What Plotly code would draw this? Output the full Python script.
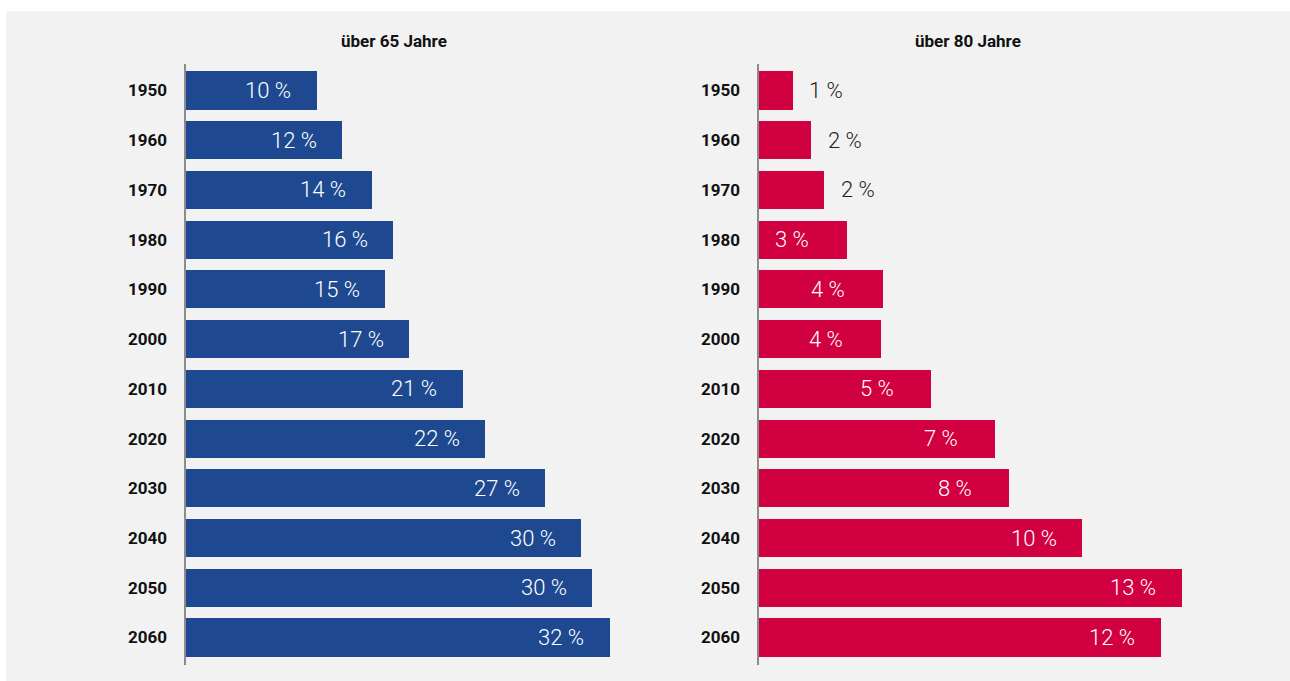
import plotly.graph_objects as go

years = ["1950", "1960", "1970", "1980", "1990", "2000", "2010", "2020", "2030", "2040", "2050", "2060"]
over65 = [9.8, 11.7, 13.9, 15.5, 14.9, 16.7, 20.7, 22.4, 26.9, 29.6, 30.4, 31.7]
over65_labels = ["10 %", "12 %", "14 %", "16 %", "15 %", "17 %", "21 %", "22 %", "27 %", "30 %", "30 %", "32 %"]
over80 = [1.04, 1.6, 2.0, 2.7, 3.8, 3.74, 5.3, 7.27, 7.7, 9.94, 13.0, 12.36]
over80_labels = ["1 %", "2 %", "2 %", "3 %", "4 %", "4 %", "5 %", "7 %", "8 %", "10 %", "13 %", "12 %"]
titles = ["über 65 Jahre", "über 80 Jahre"]

BLUE = "#1E4990"
RED = "#D10040"
W, H = 1290, 681

fig = go.Figure()
idx = list(range(len(years)))

fig.add_trace(go.Bar(y=idx, x=over65, orientation="h", marker=dict(color=BLUE, line=dict(width=0)),
                     width=0.765, xaxis="x", yaxis="y", hoverinfo="skip"))
fig.add_trace(go.Bar(y=idx, x=over80, orientation="h", marker=dict(color=RED, line=dict(width=0)),
                     width=0.765, xaxis="x2", yaxis="y2", hoverinfo="skip"))

ann = []
label_font = dict(family="Roboto", size=22, weight=300)
for ax, vals, labs in (("x", over65, over65_labels), ("x2", over80, over80_labels)):
    yref = "y" if ax == "x" else "y2"
    for i, (v, t) in enumerate(zip(vals, labs)):
        ndig = len(t.split(" ")[0])
        if v < 2.5:
            ann.append(dict(x=v, y=i, xref=ax, yref=yref, text=t, showarrow=False,
                            xanchor="left", yanchor="middle", xshift=15,
                            font=dict(color="#222222", **label_font)))
        else:
            ann.append(dict(x=v, y=i, xref=ax, yref=yref, text=t, showarrow=False,
                            xanchor="right", yanchor="middle",
                            xshift=-23 if ndig == 2 else -35,
                            font=dict(color="white", **label_font)))

for xc, t in zip((394 / W, 968 / W), titles):
    ann.append(dict(x=xc, y=(H - 41) / H, xref="paper", yref="paper", text=t, showarrow=False,
                    xanchor="center", yanchor="middle",
                    font=dict(family="Roboto", size=17, weight="bold", color="#111111")))

ydom = [(H - 665) / H, (H - 64) / H]
yax = dict(domain=ydom, range=[11.553, -0.533], tickmode="array", tickvals=idx, ticktext=years,
           showgrid=False, zeroline=False, showline=True, linecolor="#8c8c8c", linewidth=2,
           ticks="", ticklabelstandoff=13,
           tickfont=dict(family="Roboto", size=17, weight="bold", color="#111111"))

fig.update_layout(
    width=W, height=H,
    margin=dict(l=0, r=0, t=0, b=0),
    paper_bgcolor="white", plot_bgcolor="rgba(0,0,0,0)",
    showlegend=False, bargap=0,
    xaxis=dict(domain=[185.5 / W, 640 / W], range=[0, 34.02], visible=False),
    xaxis2=dict(domain=[758.5 / W, 1220 / W], range=[0, 14.2], visible=False),
    yaxis=dict(anchor="x", **yax),
    yaxis2=dict(anchor="x2", **yax),
    annotations=ann,
    shapes=[dict(type="rect", xref="paper", yref="paper", x0=6 / W, x1=1, y0=0, y1=(H - 11) / H,
                 fillcolor="#f2f2f2", line=dict(width=0), layer="below")],
)

fig.write_html("out.html")
